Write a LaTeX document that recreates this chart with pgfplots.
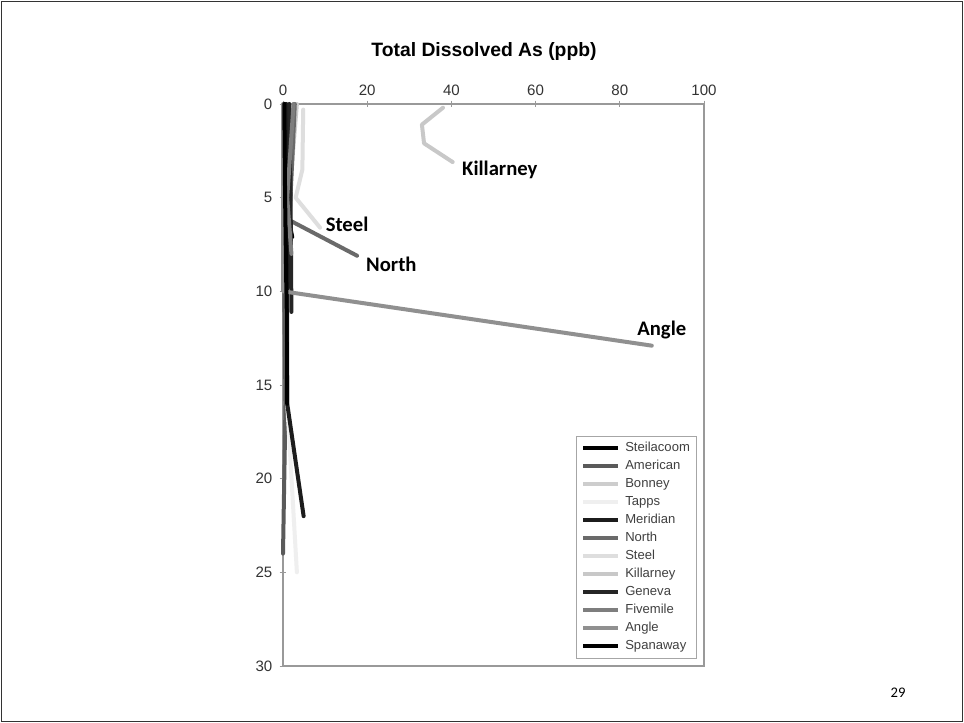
\documentclass[border=0pt]{standalone}
\usepackage{pgfplots}
\pgfplotsset{compat=1.18}
\usepackage{fontspec}
\setmainfont{Liberation Sans}
\newfontfamily\calfont{Carlito}
\definecolor{cAmerican}{HTML}{5A5A5A}
\definecolor{cBonney}{HTML}{CDCDCD}
\definecolor{cTapps}{HTML}{EFEFEF}
\definecolor{cMeridian}{HTML}{1C1C1C}
\definecolor{cNorth}{HTML}{6A6A6A}
\definecolor{cSteel}{HTML}{DEDEDE}
\definecolor{cKillarney}{HTML}{C8C8C8}
\definecolor{cGeneva}{HTML}{252525}
\definecolor{cFivemile}{HTML}{7E7E7E}
\definecolor{cAngle}{HTML}{909090}
\begin{document}
\begin{tikzpicture}
\useasboundingbox (0pt,0pt) rectangle (723pt,542.25pt);
\fill[white] (0pt,0pt) rectangle (723pt,542.25pt);
\draw[line width=1.1pt, black!80] (1.1pt,1.1pt) rectangle (721.9pt,541.1pt);
\node[font=\bfseries\fontsize{14.5}{17}\selectfont] at (363pt,503.5pt) {Total Dissolved As (ppb)};
\node[font=\calfont\fontsize{11}{13}\selectfont] at (673.5pt,22.5pt) {29};
\begin{axis}[at={(212.25pt,464.25pt)}, anchor=north west,
  width=315.75pt, height=421.5pt, scale only axis,
  xmin=0, xmax=100, ymin=0, ymax=30, y dir=reverse,
  xtick={0,20,40,60,80,100}, ytick={0,5,10,15,20,25,30},
  xtick pos=right, xticklabel pos=right, ytick pos=left,
  tick align=center, major tick length=5pt,
  axis line style={gray!80, line width=0.8pt},
  tick style={gray!80, line width=0.6pt},
  /pgf/number format/assume math mode=true,
  tick label style={font=\fontsize{11.3}{13}\selectfont, text=black!80},
  yticklabel style={xshift=-2pt},
  every axis plot/.append style={line width=3pt, line join=round, line cap=round},
  legend style={at={(0.983,0.014)}, anchor=south east, draw=gray!70,
    font=\fontsize{9.8}{11}\selectfont, text=black!75,
    nodes={inner sep=1pt, text height=7.5pt, text depth=2pt},
    /tikz/every odd column/.append style={column sep=3pt},
    row sep=2pt, inner xsep=4pt, inner ysep=3pt},
  legend cell align=left,
  legend image code/.code={\draw[#1, line width=3pt, line cap=butt] (0pt,0pt) -- (26pt,0pt);},
  clip=false]
\addplot[black] coordinates {(0.5,0) (0.3,5) (2.2,7.1)};
\addlegendentry{Steilacoom}
\addplot[cAmerican] coordinates {(0.3,0) (0.3,10) (0.6,16) (0,24)};
\addlegendentry{American}
\addplot[cBonney] coordinates {(3.3,0) (1.5,5) (0.5,8)};
\addlegendentry{Bonney}
\addplot[cTapps] coordinates {(0.8,10) (1,16) (3.3,25)};
\addlegendentry{Tapps}
\addplot[cMeridian] coordinates {(0.8,0) (1,10) (1,16) (4.9,22)};
\addlegendentry{Meridian}
\addplot[cNorth] coordinates {(2.8,0) (2.2,3) (1.5,6.2) (17.6,8.1)};
\addlegendentry{North}
\addplot[cSteel] coordinates {(4.8,0.3) (4.6,3.5) (3,5) (8.8,6.6)};
\addlegendentry{Steel}
\addplot[cKillarney] coordinates {(38,0.2) (33,1.1) (33.5,2.1) (40.3,3.1)};
\addlegendentry{Killarney}
\addplot[cGeneva] coordinates {(1.5,0) (1.8,5) (2,11.1)};
\addlegendentry{Geneva}
\addplot[cFivemile] coordinates {(2.5,0) (1,5) (2,8)};
\addlegendentry{Fivemile}
\addplot[cAngle] coordinates {(0,0) (0,10) (87.6,12.9)};
\addlegendentry{Angle}
\addplot[black] coordinates {(0.3,0) (0.5,5) (0.8,10) (1,16)};
\addlegendentry{Spanaway}
\tikzset{lbl/.style={font=\calfont\bfseries\fontsize{15.5}{18}\selectfont, anchor=west, inner sep=0pt}}
\node[lbl] at (axis cs:42.5,3.5) {Killarney};
\node[lbl] at (axis cs:10.1,6.45) {Steel};
\node[lbl] at (axis cs:19.7,8.55) {North};
\node[lbl] at (axis cs:84.1,12.05) {Angle};
\end{axis}
\end{tikzpicture}
\end{document}
